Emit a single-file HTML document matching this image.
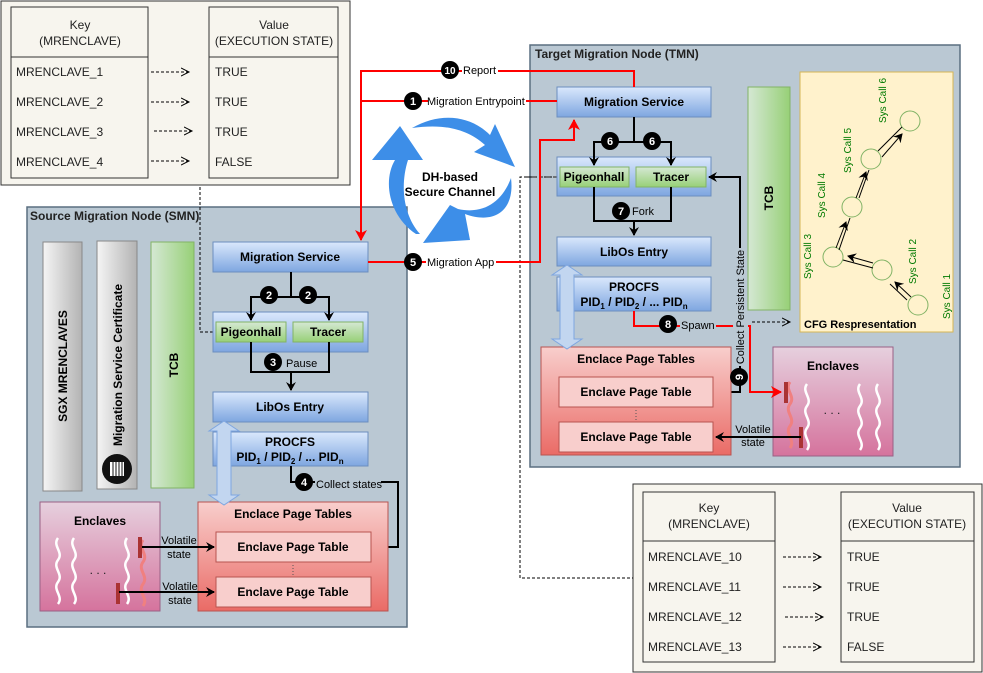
<!DOCTYPE html>
<html><head><meta charset="utf-8"><style>
html,body{margin:0;padding:0;background:#fff}
svg{display:block;font-family:"Liberation Sans",Arial,sans-serif}
.b{font-weight:bold}
</style></head><body>
<svg width="983" height="673" viewBox="0 0 983 673" xmlns="http://www.w3.org/2000/svg">
<defs>
<linearGradient id="blue" x1="0" y1="0" x2="0" y2="1"><stop offset="0" stop-color="#dae8fc"/><stop offset="1" stop-color="#7ea6e0"/></linearGradient>
<linearGradient id="green" x1="0" y1="0" x2="0" y2="1"><stop offset="0" stop-color="#d5e8d4"/><stop offset="1" stop-color="#97d077"/></linearGradient>
<linearGradient id="greenh" x1="0" y1="0" x2="1" y2="0"><stop offset="0" stop-color="#d5e8d4"/><stop offset="1" stop-color="#97d077"/></linearGradient>
<linearGradient id="gray" x1="0" y1="0" x2="1" y2="0"><stop offset="0" stop-color="#f5f5f5"/><stop offset="1" stop-color="#b3b3b3"/></linearGradient>
<linearGradient id="red" x1="0" y1="0" x2="0" y2="1"><stop offset="0" stop-color="#f8cecc"/><stop offset="1" stop-color="#ea6b66"/></linearGradient>
<linearGradient id="pink" x1="0" y1="0" x2="0" y2="1"><stop offset="0" stop-color="#e6d0de"/><stop offset="1" stop-color="#d5739d"/></linearGradient>
<marker id="ak" markerWidth="10" markerHeight="10" refX="8" refY="5" orient="auto" markerUnits="userSpaceOnUse"><path d="M0,0 L9,5 L0,10 L3,5z" fill="#000"/></marker>
<marker id="ar" markerWidth="12" markerHeight="12" refX="10" refY="6" orient="auto" markerUnits="userSpaceOnUse"><path d="M0,0 L11,6 L0,12 L3,6z" fill="#f00"/></marker>
<marker id="ao" markerWidth="10" markerHeight="10" refX="8" refY="5" orient="auto" markerUnits="userSpaceOnUse"><path d="M0,1 L8,5 L0,9" fill="none" stroke="#000"/></marker>
</defs>

<!-- top-left table -->
<rect x="1" y="1" width="349" height="184" fill="#f7f5ee" stroke="#333"/>
<rect x="11" y="7" width="137" height="171" fill="#f7f5ee" stroke="#333"/>
<line x1="11" y1="57" x2="148" y2="57" stroke="#333"/>
<rect x="209" y="7" width="129" height="171" fill="#f7f5ee" stroke="#333"/>
<line x1="209" y1="57" x2="338" y2="57" stroke="#333"/>
<g font-size="12" fill="#222">
<text x="80" y="29" text-anchor="middle">Key</text><text x="80" y="45" text-anchor="middle">(MRENCLAVE)</text>
<text x="274" y="29" text-anchor="middle">Value</text><text x="274" y="45" text-anchor="middle">(EXECUTION STATE)</text>
<text x="16" y="76">MRENCLAVE_1</text><text x="16" y="106">MRENCLAVE_2</text><text x="16" y="136">MRENCLAVE_3</text><text x="16" y="166">MRENCLAVE_4</text>
<text x="215" y="76">TRUE</text><text x="215" y="106">TRUE</text><text x="215" y="136">TRUE</text><text x="215" y="166">FALSE</text>
</g>
<g stroke="#000" stroke-dasharray="3,2" fill="none">
<path d="M151 72H189" marker-end="url(#ao)"/><path d="M151 102H189" marker-end="url(#ao)"/><path d="M154 131H192" marker-end="url(#ao)"/><path d="M151 161H189" marker-end="url(#ao)"/>
</g>

<!-- bottom-right table -->
<rect x="633" y="484" width="349" height="188" fill="#f7f5ee" stroke="#333"/>
<rect x="643" y="492" width="132" height="170" fill="#f7f5ee" stroke="#333"/>
<line x1="643" y1="541" x2="775" y2="541" stroke="#333"/>
<rect x="841" y="492" width="133" height="170" fill="#f7f5ee" stroke="#333"/>
<line x1="841" y1="541" x2="974" y2="541" stroke="#333"/>
<g font-size="12" fill="#222">
<text x="709" y="512" text-anchor="middle">Key</text><text x="709" y="528" text-anchor="middle">(MRENCLAVE)</text>
<text x="907" y="512" text-anchor="middle">Value</text><text x="907" y="528" text-anchor="middle">(EXECUTION STATE)</text>
<text x="648" y="561">MRENCLAVE_10</text><text x="648" y="591">MRENCLAVE_11</text><text x="648" y="621">MRENCLAVE_12</text><text x="648" y="651">MRENCLAVE_13</text>
<text x="847" y="561">TRUE</text><text x="847" y="591">TRUE</text><text x="847" y="621">TRUE</text><text x="847" y="651">FALSE</text>
</g>
<g stroke="#000" stroke-dasharray="3,2" fill="none">
<path d="M783 557H821" marker-end="url(#ao)"/><path d="M783 587H821" marker-end="url(#ao)"/><path d="M785 617H823" marker-end="url(#ao)"/><path d="M783 647H821" marker-end="url(#ao)"/>
</g>

<!-- SMN -->
<rect x="27" y="207" width="380" height="420" fill="#bac8d3" stroke="#5a6f80" stroke-width="1.5"/>
<text x="30" y="220" font-size="12" class="b" fill="#222">Source Migration Node (SMN)</text>
<rect x="43" y="242" width="39" height="249" fill="url(#gray)" stroke="#888"/>
<text transform="translate(67,366) rotate(-90)" text-anchor="middle" font-size="12" class="b">SGX MRENCLAVES</text>
<rect x="97" y="241" width="40" height="248" fill="url(#gray)" stroke="#888"/>
<text transform="translate(122,365) rotate(-90)" text-anchor="middle" font-size="12" class="b">Migration Service Certificate</text>
<circle cx="117" cy="469" r="15" fill="#111"/>
<rect x="110" y="462" width="14" height="14" fill="#fff"/><path d="M113 462V476M116 462V476M119 462V476M122 462V476" stroke="#111" stroke-width="1"/>
<rect x="151" y="242" width="43" height="246" fill="url(#greenh)" stroke="#82b366"/>
<text transform="translate(178,365) rotate(-90)" text-anchor="middle" font-size="12" class="b">TCB</text>

<path d="M213 332H200V185" fill="none" stroke="#000" stroke-dasharray="3,2"/>

<rect x="213" y="242" width="155" height="30" fill="url(#blue)" stroke="#6c8ebf"/>
<text x="290" y="261" text-anchor="middle" font-size="12" class="b">Migration Service</text>
<rect x="213" y="312" width="155" height="40" fill="url(#blue)" stroke="#6c8ebf"/>
<rect x="216" y="322" width="70" height="20" fill="url(#green)" stroke="#82b366"/>
<text x="251" y="336" text-anchor="middle" font-size="12" class="b">Pigeonhall</text>
<rect x="293" y="322" width="70" height="20" fill="url(#green)" stroke="#82b366"/>
<text x="328" y="336" text-anchor="middle" font-size="12" class="b">Tracer</text>
<rect x="213" y="392" width="155" height="30" fill="url(#blue)" stroke="#6c8ebf"/>
<text x="290" y="411" text-anchor="middle" font-size="12" class="b">LibOs Entry</text>
<rect x="213" y="432" width="155" height="34" fill="url(#blue)" stroke="#6c8ebf"/>
<text x="290" y="446" text-anchor="middle" font-size="12" class="b">PROCFS</text>
<text x="290" y="461" text-anchor="middle" font-size="12" class="b">PID<tspan font-size="8" dy="3">1</tspan><tspan dy="-3"> / PID</tspan><tspan font-size="8" dy="3">2</tspan><tspan dy="-3"> / ...  PID</tspan><tspan font-size="8" dy="3">n</tspan></text>

<g stroke="#000" stroke-width="2" fill="none">
<path d="M291 272V297"/><path d="M291 297H251V320" marker-end="url(#ak)"/><path d="M291 297H329V320" marker-end="url(#ak)"/>
<path d="M251 342V372H329V342"/><path d="M291 372V390" marker-end="url(#ak)"/>
<path d="M291 466V482H398V547H374" marker-end="url(#ak)"/>
</g>
<g font-size="11" class="b" fill="#fff">
<circle cx="269" cy="295" r="9" fill="#000"/><text x="269" y="299" text-anchor="middle">2</text>
<circle cx="308" cy="295" r="9" fill="#000"/><text x="308" y="299" text-anchor="middle">2</text>
<circle cx="273" cy="362" r="9" fill="#000"/><text x="273" y="366" text-anchor="middle">3</text>
<circle cx="304" cy="482" r="9" fill="#000"/><text x="304" y="486" text-anchor="middle">4</text>
</g>
<rect x="284" y="357" width="36" height="12" fill="#bac8d3"/>
<text x="286" y="367" font-size="11">Pause</text>
<rect x="315" y="478" width="66" height="12" fill="#bac8d3"/>
<text x="316" y="488" font-size="11">Collect states</text>

<!-- SMN EPT -->
<rect x="198" y="502" width="190" height="109" fill="url(#red)" stroke="#b85450"/>
<text x="293" y="518" text-anchor="middle" font-size="12" class="b">Enclace Page Tables</text>
<rect x="216" y="532" width="155" height="30" fill="#f8cecc" stroke="#b85450"/>
<text x="293" y="551" text-anchor="middle" font-size="12" class="b">Enclave Page Table</text>
<rect x="216" y="577" width="155" height="30" fill="#f8cecc" stroke="#b85450"/>
<text x="293" y="596" text-anchor="middle" font-size="12" class="b">Enclave Page Table</text>
<path d="M293 565V575" stroke="#555" stroke-dasharray="1,2"/>
<path d="M224 421 L239 431 L231 431 L231 495 L239 495 L224 505 L209 495 L217 495 L217 431 L209 431Z" fill="#c2d6f0" stroke="#7ea6e0"/>

<!-- SMN enclaves -->
<rect x="40" y="502" width="120" height="109" fill="url(#pink)" stroke="#996185"/>
<text x="100" y="525" text-anchor="middle" font-size="12" class="b">Enclaves</text>
<g stroke="#fff" stroke-width="2.5" fill="none">
<path d="M58 538c-6 8 6 14 0 22s6 14 0 22s6 14 0 22"/>
<path d="M74 538c-6 8 6 14 0 22s6 14 0 22s6 14 0 22"/>
<path d="M127 538c-6 8 6 14 0 22s6 14 0 22s6 14 0 22"/>
</g>
<path d="M143 540c-6 8 6 14 0 22s6 14 0 22s6 14 0 22" stroke="#f08080" stroke-width="3" fill="none"/>
<text x="98" y="574" text-anchor="middle" font-size="12" fill="#222">. . .</text>
<rect x="138" y="537" width="4" height="21" fill="#a33"/>
<rect x="116" y="583" width="4" height="21" fill="#a33"/>
<g stroke="#000" stroke-width="2" fill="none">
<path d="M142 547H214" marker-end="url(#ak)"/><path d="M119 592H214" marker-end="url(#ak)"/>
</g>
<g font-size="11" text-anchor="middle">
<text x="179" y="544">Volatile</text><text x="179" y="558">state</text>
<text x="180" y="590">Volatile</text><text x="180" y="604">state</text>
</g>

<!-- TMN -->
<rect x="530" y="45" width="430" height="422" fill="#bac8d3" stroke="#5a6f80" stroke-width="1.5"/>
<text x="535" y="58" font-size="12" class="b" fill="#222">Target Migration Node (TMN)</text>
<path d="M557 177H520V578H633" fill="none" stroke="#000" stroke-dasharray="3,2"/>
<path d="M557 177H522" stroke="#555" stroke-dasharray="4,3" stroke-width="1.5"/>

<rect x="557" y="87" width="154" height="30" fill="url(#blue)" stroke="#6c8ebf"/>
<text x="634" y="106" text-anchor="middle" font-size="12" class="b">Migration Service</text>
<rect x="557" y="157" width="154" height="39" fill="url(#blue)" stroke="#6c8ebf"/>
<rect x="560" y="167" width="69" height="20" fill="url(#green)" stroke="#82b366"/>
<text x="594" y="181" text-anchor="middle" font-size="12" class="b">Pigeonhall</text>
<rect x="636" y="167" width="70" height="20" fill="url(#green)" stroke="#82b366"/>
<text x="671" y="181" text-anchor="middle" font-size="12" class="b">Tracer</text>
<rect x="557" y="237" width="154" height="29" fill="url(#blue)" stroke="#6c8ebf"/>
<text x="634" y="256" text-anchor="middle" font-size="12" class="b">LibOs Entry</text>
<rect x="557" y="277" width="154" height="34" fill="url(#blue)" stroke="#6c8ebf"/>
<text x="634" y="291" text-anchor="middle" font-size="12" class="b">PROCFS</text>
<text x="634" y="306" text-anchor="middle" font-size="12" class="b">PID<tspan font-size="8" dy="3">1</tspan><tspan dy="-3"> / PID</tspan><tspan font-size="8" dy="3">2</tspan><tspan dy="-3"> / ...  PID</tspan><tspan font-size="8" dy="3">n</tspan></text>

<rect x="748" y="87" width="42" height="223" fill="url(#greenh)" stroke="#82b366"/>
<text transform="translate(773,198) rotate(-90)" text-anchor="middle" font-size="12" class="b">TCB</text>

<g stroke="#000" stroke-width="2" fill="none">
<path d="M634 117V142"/><path d="M634 142H594V165" marker-end="url(#ak)"/><path d="M634 142H671V165" marker-end="url(#ak)"/>
<path d="M594 187V221H671V187"/><path d="M634 221V235" marker-end="url(#ak)"/>
<path d="M713 392H740V177H709" marker-end="url(#ak)"/>
</g>
<path d="M752 322H790" stroke="#000" stroke-dasharray="3,2" fill="none" marker-end="url(#ao)"/>

<!-- CFG -->
<rect x="800" y="72" width="153" height="260" fill="#fff2cc" stroke="#d6b656"/>
<text x="804" y="328" font-size="11" class="b">CFG Respresentation</text>
<g fill="none" stroke="#82b366">
<circle cx="918" cy="305" r="10"/><circle cx="882" cy="270" r="10"/><circle cx="833" cy="257" r="10"/>
<circle cx="852" cy="207" r="10"/><circle cx="871" cy="159" r="10"/><circle cx="910" cy="121" r="10"/>
</g>
<g stroke="#000" stroke-width="1" fill="none">
<path d="M911 297L895 282" marker-end="url(#ak)"/><path d="M907 300L890 284"/>
<path d="M873 263L848 256" marker-end="url(#ak)"/><path d="M873 268L843 260"/>
<path d="M836 248L846 222" marker-end="url(#ak)"/><path d="M839 250L850 218"/>
<path d="M856 198L866 172" marker-end="url(#ak)"/><path d="M859 198L869 170"/>
<path d="M882 157L902 134" marker-end="url(#ak)"/><path d="M878 151L902 127"/>
</g>
<g font-size="10" fill="#007a00">
<text transform="translate(950,319) rotate(-90)">Sys Call 1</text>
<text transform="translate(916,284) rotate(-90)">Sys Call 2</text>
<text transform="translate(811,279) rotate(-90)">Sys Call 3</text>
<text transform="translate(825,218) rotate(-90)">Sys Call 4</text>
<text transform="translate(851,173) rotate(-90)">Sys Call 5</text>
<text transform="translate(886,123) rotate(-90)">Sys Call 6</text>
</g>

<!-- TMN EPT -->
<rect x="541" y="347" width="190" height="108" fill="url(#red)" stroke="#b85450"/>
<text x="636" y="363" text-anchor="middle" font-size="12" class="b">Enclace Page Tables</text>
<rect x="559" y="377" width="154" height="30" fill="#f8cecc" stroke="#b85450"/>
<text x="636" y="396" text-anchor="middle" font-size="12" class="b">Enclave Page Table</text>
<rect x="559" y="422" width="154" height="30" fill="#f8cecc" stroke="#b85450"/>
<text x="636" y="441" text-anchor="middle" font-size="12" class="b">Enclave Page Table</text>
<path d="M636 410V420" stroke="#555" stroke-dasharray="1,2"/>
<path d="M567 265 L582 275 L574 275 L574 339 L582 339 L567 349 L552 339 L560 339 L560 275 L552 275Z" fill="#c2d6f0" stroke="#7ea6e0"/>

<!-- TMN enclaves -->
<rect x="773" y="347" width="120" height="109" fill="url(#pink)" stroke="#996185"/>
<text x="833" y="370" text-anchor="middle" font-size="12" class="b">Enclaves</text>
<path d="M790 382c-6 8 6 14 0 22s6 14 0 22s6 14 0 22" stroke="#f08080" stroke-width="3" fill="none"/>
<g stroke="#fff" stroke-width="2.5" fill="none">
<path d="M807 384c-6 8 6 14 0 22s6 14 0 22s6 14 0 22"/>
<path d="M860 384c-6 8 6 14 0 22s6 14 0 22s6 14 0 22"/>
<path d="M878 384c-6 8 6 14 0 22s6 14 0 22s6 14 0 22"/>
</g>
<text x="832" y="414" text-anchor="middle" font-size="12" fill="#222">. . .</text>
<rect x="784" y="382" width="4" height="21" fill="#a33"/>
<rect x="799" y="427" width="4" height="21" fill="#a33"/>
<path d="M801 437H716" stroke="#000" stroke-width="2" fill="none" marker-end="url(#ak)"/>
<g font-size="11" text-anchor="middle"><text x="753" y="433">Volatile</text><text x="753" y="446">state</text></g>

<rect x="733" y="248" width="14" height="118" fill="#bac8d3"/>
<text transform="translate(744,307) rotate(-90)" text-anchor="middle" font-size="11">Collect Persistent State</text>

<!-- red flows -->
<g stroke="#f00" stroke-width="2" fill="none">
<path d="M634 87V71H361V240" marker-end="url(#ar)"/>
<path d="M557 101H361"/>
<path d="M368 262H540V140H574V120" marker-end="url(#ar)"/>
<path d="M634 311V326H733"/>
<path d="M748 326H750V392H781" marker-end="url(#ar)"/>
</g>
<rect x="428" y="94" width="98" height="14" fill="#fff"/>
<text x="427" y="105" font-size="11">Migration Entrypoint</text>
<rect x="462" y="63" width="36" height="14" fill="#fff"/>
<text x="463" y="74" font-size="11">Report</text>
<rect x="426" y="255" width="70" height="14" fill="#fff"/>
<text x="427" y="266" font-size="11">Migration App</text>
<rect x="680" y="319" width="36" height="13" fill="#bac8d3"/>
<text x="681" y="329" font-size="11">Spawn</text>
<g font-size="11" class="b" fill="#fff">
<circle cx="450" cy="70" r="9" fill="#000"/><text x="450" y="74" text-anchor="middle" font-size="10">10</text>
<circle cx="413" cy="101" r="9" fill="#000"/><text x="413" y="105" text-anchor="middle">1</text>
<circle cx="413" cy="262" r="9" fill="#000"/><text x="413" y="266" text-anchor="middle">5</text>
<circle cx="610" cy="141" r="9" fill="#000"/><text x="610" y="145" text-anchor="middle">6</text>
<circle cx="652" cy="141" r="9" fill="#000"/><text x="652" y="145" text-anchor="middle">6</text>
<circle cx="621" cy="211" r="9" fill="#000"/><text x="621" y="215" text-anchor="middle">7</text>
<circle cx="668" cy="324" r="9" fill="#000"/><text x="668" y="328" text-anchor="middle">8</text>
<circle cx="739" cy="377" r="9" fill="#000"/><text transform="translate(743,377) rotate(-90)" text-anchor="middle">9</text>
</g>
<text x="632" y="215" font-size="11">Fork</text>

<!-- DH arrows -->
<g fill="#3d8ee8">
<path d="M416 234 C388 215 383 180 395 160 L372 160 L400 126 L423 160 L408 160 C400 185 403 215 420 234Z"/>
<path d="M412 128 C440 112 470 115 490 135 L495 124 L515 167 L474 152 L485 145 C465 127 440 124 412 128Z"/>
<path d="M511 178 C515 210 495 225 465 214 L470 240 L423 243 L450 205 L458 209 C485 215 503 200 511 178Z"/>
</g>
<text x="450" y="181" text-anchor="middle" font-size="12" class="b">DH-based</text>
<text x="450" y="196" text-anchor="middle" font-size="12" class="b">Secure Channel</text>
</svg>
</body></html>
